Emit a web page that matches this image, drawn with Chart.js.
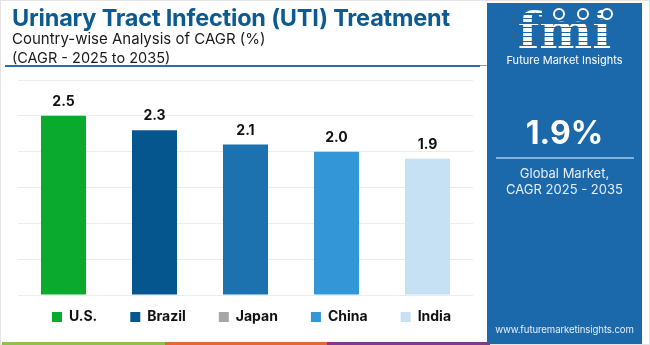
<!DOCTYPE html>
<html><head><meta charset="utf-8">
<script src="https://cdn.jsdelivr.net/npm/chart.js@4"></script>
<style>
html,body{margin:0;padding:0;}
body{width:650px;height:345px;position:relative;overflow:hidden;background:#fff;font-family:Inter, "Noto Sans", sans-serif;}
#frame{position:absolute;left:0;top:0;width:648px;height:343px;border:1px solid #e4e4e4;}
#title{position:absolute;left:12px;top:3px;font-weight:700;font-size:23.5px;color:#0d5a91;white-space:nowrap;letter-spacing:-0.2px;}
#sub1{position:absolute;left:12px;top:29px;font-size:15px;color:#1a1a1a;white-space:nowrap;}
#sub2{position:absolute;left:12px;top:49px;font-size:14.5px;color:#1a1a1a;white-space:nowrap;}
#rule{position:absolute;left:5px;top:65px;width:475px;height:2px;background:#2a6fa8;}
#rule2{position:absolute;left:480px;top:65px;width:8px;height:1px;background:#9a9a9a;}
#chartWrap{position:absolute;left:0;top:0;width:487px;height:345px;}
#panel{position:absolute;left:487px;top:3px;width:155px;height:341px;background:#1b69aa;color:#fff;text-align:center;}
#logo{position:absolute;left:0;top:3px;width:155px;text-align:center;font-family:"DejaVu Serif",serif;font-weight:700;font-size:50px;line-height:50px;
 background:repeating-linear-gradient(#fff 0 3px, rgba(255,255,255,0) 3px 4.5px);-webkit-background-clip:text;background-clip:text;color:transparent;}
.globe{position:absolute;width:8px;height:8px;border:2px solid #fff;border-radius:50%;top:5px;background:#1b69aa;}
#fmitext{position:absolute;left:0;top:50px;width:155px;font-size:11px;color:#fff;}
#big{position:absolute;left:0;top:110px;width:155px;font-size:32px;font-weight:700;}
#pline{position:absolute;left:9px;top:154px;width:138px;height:2px;background:#7fb2de;}
#g1{position:absolute;left:0;top:162px;width:155px;font-size:13px;color:#e6eff8;line-height:16px;}
#url{position:absolute;left:0;top:321px;width:155px;font-size:9.6px;color:#e6eff8;letter-spacing:-0.1px;}
.stripe{position:absolute;top:342px;height:3px;}
</style></head>
<body>
<div id="frame"></div>
<div id="chartWrap"><canvas id="c" width="487" height="345"></canvas></div>
<div id="title">Urinary Tract Infection (UTI) Treatment</div>
<div id="sub1">Country-wise Analysis of CAGR (%)</div>
<div id="sub2">(CAGR - 2025 to 2035)</div>
<div id="rule"></div><div id="rule2"></div>
<div id="panel">
  <div id="logo">fmi</div>
  <div class="globe" style="left:66px"></div>
  <div class="globe" style="left:90px"></div>
  <div class="globe" style="left:114px"></div>
  <div id="fmitext">Future Market Insights</div>
  <div id="big">1.9%</div>
  <div id="pline"></div>
  <div id="g1">Global Market,<br>CAGR 2025 - 2035</div>
  <div id="url">www.futuremarketinsights.com</div>
</div>
<div class="stripe" style="left:2px;width:163px;background:#8cc152"></div>
<div class="stripe" style="left:165px;width:162px;background:#e2673a"></div>
<div class="stripe" style="left:327px;width:163px;background:#7e3a8e"></div>
<script>
const categories = ['U.S.', 'Brazil', 'Japan', 'China', 'India'];
const cagrValues = [2.5, 2.3, 2.1, 2.0, 1.9];
const barColors = ['#0aaa2f', '#05568f', '#1b72ae', '#3396d6', '#c5e1f3'];
const legendColors = ['#0aaa2f', '#05568f', '#a6a6a6', '#3396d6', '#c5e1f3'];
const yMin = 0, yMax = 3, yStep = 0.5;

const valueLabels = {
  id: 'valueLabels',
  afterDatasetsDraw(chart) {
    const ctx = chart.ctx;
    const meta = chart.getDatasetMeta(0);
    ctx.save();
    ctx.font = '700 14px Inter, "Noto Sans", sans-serif';
    ctx.fillStyle = '#111';
    ctx.textAlign = 'center';
    ctx.textBaseline = 'middle';
    meta.data.forEach((bar, i) => {
      ctx.fillText(cagrValues[i].toFixed(1), bar.x, bar.y - 14);
    });
    ctx.restore();
  }
};
const legendPlace = {
  id: 'legendPlace',
  afterLayout(chart) {
    const lg = chart.legend;
    const pad = lg.options.labels.padding;
    lg.top = 317 - pad - 7;
    lg.bottom = 340;
    lg.height = lg.bottom - lg.top;
    lg.left = 19;
    lg.right = 600;
    lg.width = lg.right - lg.left;
  }
};

new Chart(document.getElementById('c'), {
  type: 'bar',
  data: {
    labels: categories,
    datasets: [{
      data: cagrValues,
      backgroundColor: barColors,
      borderWidth: 0,
      barPercentage: 0.5,
      categoryPercentage: 0.99
    }]
  },
  options: {
    responsive: false,
    animation: false,
    layout: { padding: { left: 18, right: 14, top: 80, bottom: 30 } },
    scales: {
      x: { display: false },
      y: {
        min: yMin, max: yMax,
        ticks: { display: false, stepSize: yStep },
        grid: { color: '#ececec', drawTicks: false },
        border: { display: false }
      }
    },
    plugins: {
      tooltip: { enabled: false },
      legend: {
        position: 'bottom',
        align: 'start',
        maxHeight: 20,
        labels: {
          boxWidth: 10,
          boxHeight: 10,
          padding: 33,
          color: '#111',
          font: { family: 'Inter, "Noto Sans", sans-serif', size: 14, weight: '700' },
          generateLabels: () => categories.map((c, i) => ({
            text: c, fillStyle: legendColors[i], strokeStyle: legendColors[i],
            lineWidth: 0, hidden: false, index: i, fontColor: '#111'
          }))
        }
      }
    }
  },
  plugins: [valueLabels, legendPlace]
});
</script>
</body></html>
